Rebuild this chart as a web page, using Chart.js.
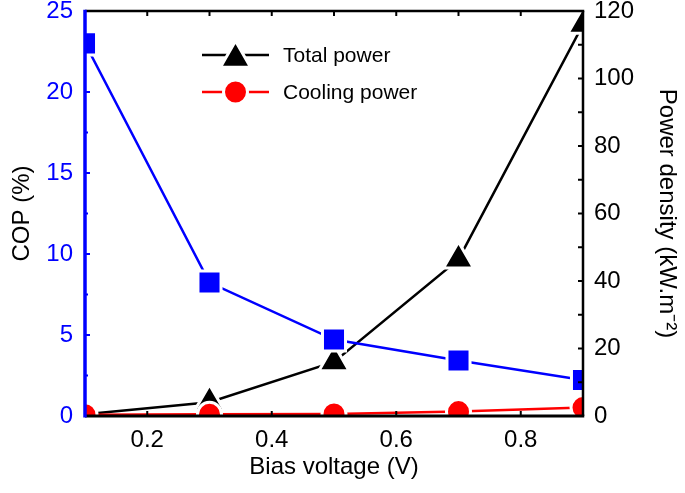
<!DOCTYPE html>
<html>
<head>
<meta charset="utf-8">
<script src="https://cdn.jsdelivr.net/npm/chart.js@4.4.1/dist/chart.umd.min.js"></script>
<style>
  html, body { margin: 0; padding: 0; background: #fff; }
  #wrap { width: 685px; height: 493px; }
</style>
</head>
<body>
<div id="wrap"><canvas id="chart" width="685" height="493"></canvas></div>
<script>
const voltage = [0.1, 0.3, 0.5, 0.7, 0.9];
const cop = [23.0, 8.24, 4.72, 3.43, 2.22];              // %
const totalPower = [0.5, 4.1, 16.0, 46.4, 116.0];       // kW.m-2
const coolingPower = [0.4, 0.5, 0.6, 1.3, 2.5];         // kW.m-2
const xTicks = [0.2, 0.4, 0.6, 0.8];
const copTicks = [0, 5, 10, 15, 20, 25];
const powerTicks = [0, 20, 40, 60, 80, 100, 120];

const FONT = "'Liberation Sans', Arial, Helvetica, sans-serif";
const BLUE = '#0000ff';
const RED = '#ff0000';

const toPoints = (ys) => voltage.map((v, i) => ({ x: v, y: ys[i] }));

// inward ticks and the box round the plot
const frame = {
  id: 'frame',
  afterDatasetsDraw(chart) {
    const { ctx, chartArea: a, scales } = chart;
    ctx.save();
    ctx.lineCap = 'butt';
    const line = (x1, y1, x2, y2, color, w) => {
      ctx.strokeStyle = color;
      ctx.lineWidth = w;
      ctx.beginPath();
      ctx.moveTo(x1, y1);
      ctx.lineTo(x2, y2);
      ctx.stroke();
    };
    for (let k = 2; k <= 8; k++) {
      const x = scales.x.getPixelForValue(k / 10);
      line(x, a.top, x, a.top + 5, '#000', 2);
      if (k % 2 === 0) line(x, a.bottom, x, a.bottom - 5, '#000', 2);
    }
    for (let k = 1; k <= 9; k++) {
      const y = scales.y.getPixelForValue(k * 2.5);
      line(a.left, y, a.left + (k % 2 ? 3 : 5), y, BLUE, 2);
    }
    for (let k = 1; k <= 11; k++) {
      const y = scales.y1.getPixelForValue(k * 10);
      line(a.right, y, a.right - 5, y, '#000', 2);
    }
    line(a.left, a.top, a.right + 1.25, a.top, '#000', 2.5);
    line(a.right, a.top, a.right, a.bottom, '#000', 2.5);
    line(a.left, a.bottom, a.right + 1.25, a.bottom, '#000', 3);
    line(a.left, a.top - 1.25, a.left, a.bottom + 1.5, BLUE, 3.5);
    ctx.restore();
  }
};

// legend inside the plot, Origin style
const legendBox = {
  id: 'legendBox',
  afterDraw(chart) {
    const ctx = chart.ctx;
    const items = [
      { text: 'Total power', color: '#000', style: 'triangle', r: 17.4, y: 55, my: 58.5 },
      { text: 'Cooling power', color: RED, style: 'circle', r: 12, y: 92, my: 92 }
    ];
    ctx.save();
    items.forEach(it => {
      ctx.strokeStyle = it.color;
      ctx.lineWidth = 2.5;
      ctx.beginPath();
      ctx.moveTo(202, it.y);
      ctx.lineTo(269, it.y);
      ctx.stroke();
      ctx.fillStyle = it.color;
      ctx.strokeStyle = '#fff';
      ctx.lineWidth = 3;
      Chart.helpers.drawPoint(ctx, { pointStyle: it.style, radius: it.r, borderWidth: 3, rotation: 0 }, 235.5, it.my);
      ctx.fillStyle = '#000';
      ctx.font = '21px ' + FONT;
      ctx.textBaseline = 'middle';
      ctx.textAlign = 'left';
      ctx.fillText(it.text, 283, it.y + 1);
    });
    ctx.restore();
  }
};

const noPad = (s) => { s.paddingTop = 0; s.paddingBottom = 0; s.paddingLeft = 0; s.paddingRight = 0; };

new Chart(document.getElementById('chart'), {
  type: 'line',
  data: {
    datasets: [
      {
        label: 'COP',
        data: toPoints(cop),
        yAxisID: 'y',
        borderColor: BLUE,
        backgroundColor: BLUE,
        borderWidth: 2.5,
        pointStyle: 'rect',
        pointRadius: 16.3,
        pointBackgroundColor: BLUE,
        pointBorderColor: '#fff',
        pointBorderWidth: 3,
        tension: 0,
        clip: 0
      },
      {
        label: 'Cooling power',
        data: toPoints(coolingPower),
        yAxisID: 'y1',
        borderColor: RED,
        backgroundColor: RED,
        borderWidth: 2.5,
        pointStyle: 'circle',
        pointRadius: 12,
        pointBackgroundColor: RED,
        pointBorderColor: '#fff',
        pointBorderWidth: 3,
        tension: 0,
        clip: 0
      },
      {
        label: 'Total power',
        data: toPoints(totalPower),
        yAxisID: 'y1',
        borderColor: '#000',
        backgroundColor: '#000',
        borderWidth: 2.5,
        pointStyle: 'triangle',
        pointRadius: 17.4,
        pointBackgroundColor: '#000',
        pointBorderColor: '#fff',
        pointBorderWidth: 3,
        tension: 0,
        clip: 0
      }
    ]
  },
  options: {
    responsive: false,
    animation: false,
    events: [],
    layout: { autoPadding: false, padding: { top: 11, left: 0, right: 0, bottom: 0 } },
    plugins: {
      legend: { display: false },
      tooltip: { enabled: false }
    },
    scales: {
      x: {
        type: 'linear',
        position: 'bottom',
        min: 0.1,
        max: 0.9,
        afterBuildTicks: s => { s.ticks = xTicks.map(v => ({ value: v })); },
        afterFit: s => { s.height = 77; noPad(s); },
        grid: { display: false, drawTicks: false },
        border: { display: false },
        ticks: {
          color: '#000',
          font: { family: FONT, size: 24 },
          padding: 10,
          maxRotation: 0,
          callback: v => v.toFixed(1)
        },
        title: {
          display: true,
          text: 'Bias voltage (V)',
          color: '#000',
          font: { family: FONT, size: 24 },
          padding: { top: 0, bottom: 11 }
        }
      },
      y: {
        type: 'linear',
        position: 'left',
        min: 0,
        max: 25,
        afterBuildTicks: s => { s.ticks = copTicks.map(v => ({ value: v })); },
        afterFit: s => { s.width = 85; noPad(s); },
        grid: { display: false, drawTicks: false },
        border: { display: false },
        ticks: { color: BLUE, font: { family: FONT, size: 24 }, padding: 12 },
        title: {
          display: true,
          text: 'COP (%)',
          color: '#000',
          font: { family: FONT, size: 24 },
          padding: { top: 8, bottom: 0 }
        }
      },
      y1: {
        type: 'linear',
        position: 'right',
        min: 0,
        max: 120,
        afterBuildTicks: s => { s.ticks = powerTicks.map(v => ({ value: v })); },
        afterFit: s => { s.width = 102; noPad(s); },
        grid: { display: false, drawTicks: false },
        border: { display: false },
        ticks: { color: '#000', font: { family: FONT, size: 24 }, padding: 11 },
        title: {
          display: true,
          text: 'Power density (kW.m\u207B\u00B2)',
          color: '#000',
          font: { family: FONT, size: 24 },
          padding: { top: 4, bottom: 0 }
        }
      }
    }
  },
  plugins: [frame, legendBox]
});
</script>
</body>
</html>
